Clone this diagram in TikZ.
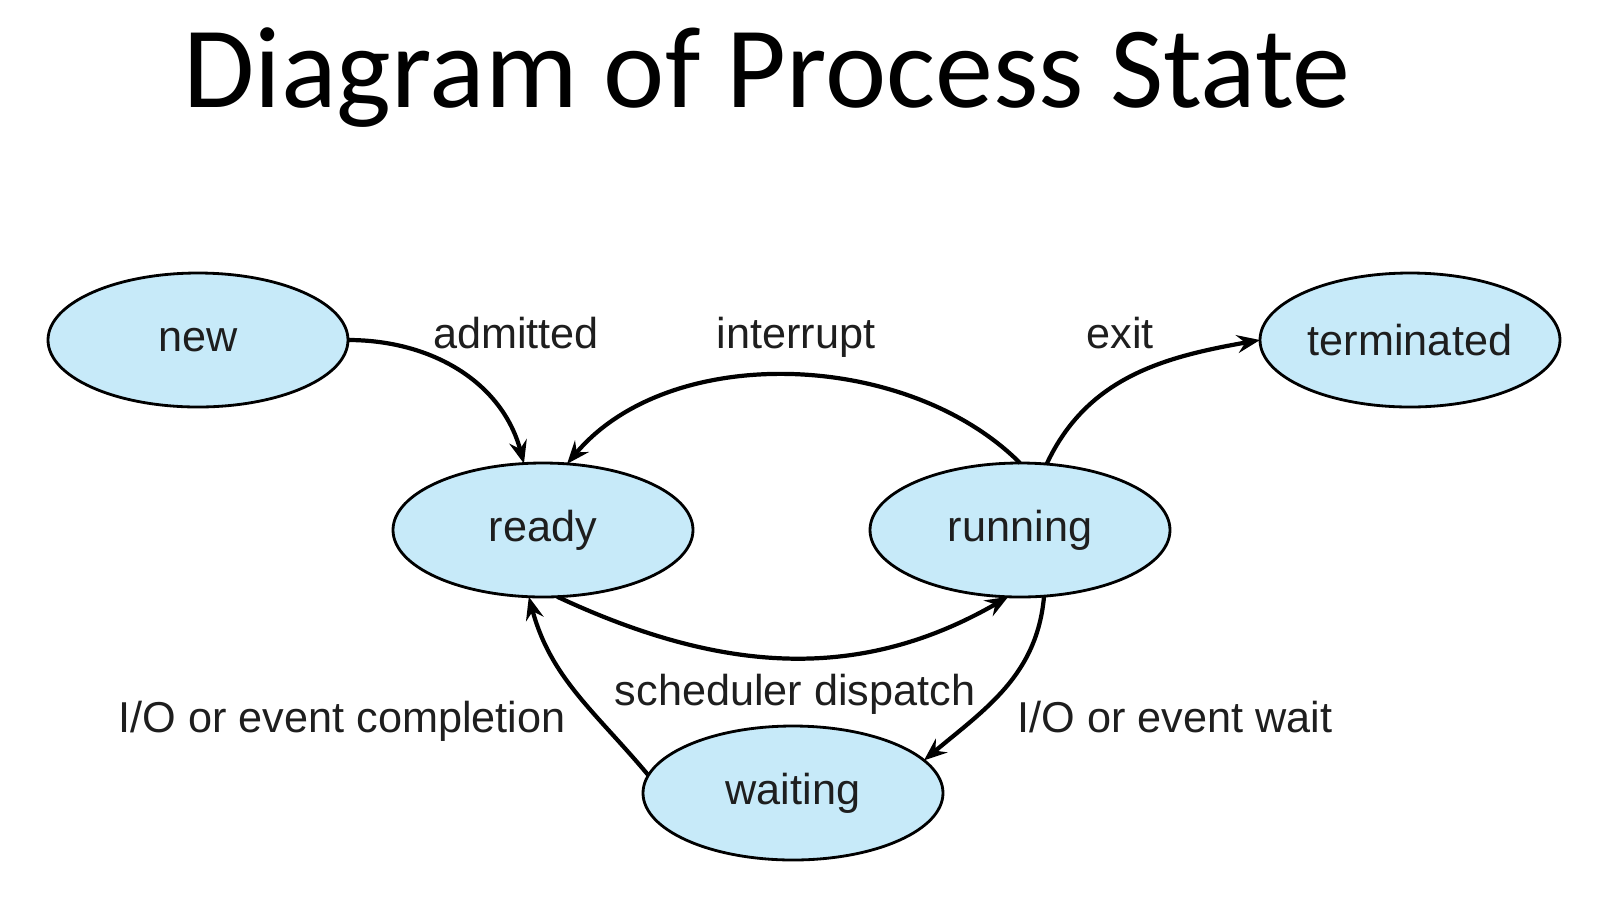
\documentclass[tikz,border=0pt]{standalone}
\usepackage{fontspec}
\setmainfont{Liberation Sans}
\newfontfamily\titlefont{Carlito}
\usetikzlibrary{arrows.meta,shapes.geometric}
\definecolor{stfill}{RGB}{199,234,249}
\definecolor{txt}{RGB}{30,30,30}
\begin{document}
\begin{tikzpicture}[x=0.1mm,y=-0.1mm,
  state/.style={ellipse,draw=black,line width=0.8pt,fill=stfill,
    minimum width=30mm,minimum height=13.4mm,inner sep=0pt,outer sep=0pt,
    font=\fontsize{12.3}{14}\selectfont,text=txt},
  lbl/.style={font=\fontsize{12.3}{14}\selectfont,text=txt,inner sep=0pt,anchor=base},
  edge/.style={line width=1.2pt,-{Stealth[length=2.3mm,width=1.8mm,inset=0.8mm]}}]
\useasboundingbox (0,0) rectangle (1620,896);
\node[font=\titlefont\fontsize{33}{40}\selectfont,anchor=base,inner sep=0pt] (title) at (767,107) {Diagram of Process State};
% states
\node[state] (new) at (198,340) {new};
\node[state] (terminated) at (1410,340) {terminated};
\node[state] (ready) at (543,530) {ready};
\node[state] (running) at (1020,530) {running};
\node[state] (waiting) at (793,793) {waiting};
% labels
\node[lbl] (ladm) at (516,348) {admitted};
\node[lbl] (lint) at (796,348) {interrupt};
\node[lbl] (lexit) at (1120,348) {exit};
\node[lbl] (lsched) at (795,705) {scheduler dispatch};
\node[lbl] (lcomp) at (342,732) {I/O or event completion};
\node[lbl] (lwait) at (1175,732) {I/O or event wait};
% edges
\draw[edge] (new.east) to[out=0,in=105] (ready.106);
\draw[edge] (running.90) to[out=135,in=50,looseness=0.9] (ready.70);
\draw[edge] (running.68) to[out=65,in=190] (terminated.west);
\draw[edge] (ready.-78) to[out=-25,in=-150] (running.-100);
\draw[edge] (running.-70) to[out=-95,in=40] (waiting.14);
\draw[edge] (waiting.173) to[out=130,in=-75] (ready.-102);
\end{tikzpicture}
\end{document}
